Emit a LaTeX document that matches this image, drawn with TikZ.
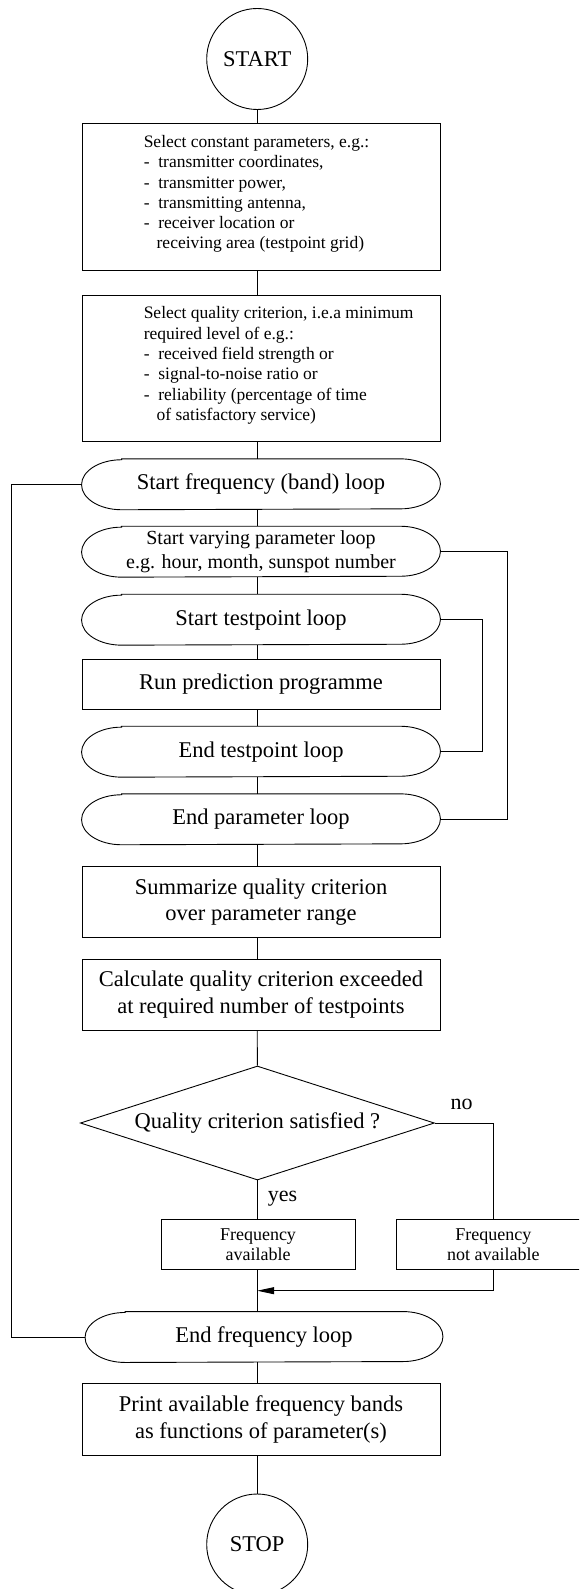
\documentclass[tikz,border=0pt]{standalone}
\usepackage{fontspec}
\setmainfont{Liberation Serif}
\usetikzlibrary{shapes.geometric,arrows.meta,calc}

\newcommand{\bigtxt}{\fontsize{22.5pt}{26.7pt}\selectfont}
\newcommand{\midtxt}{\fontsize{20pt}{23.3pt}\selectfont}
\newcommand{\smalltxt}{\fontsize{17.5pt}{20.3pt}\selectfont}
\newcommand{\boxtxt}{\fontsize{18pt}{20pt}\selectfont}

% outline of a loop terminal: straight top and bottom, half-ellipse ends
\newcommand{\termoutline}[1]{%
  \draw ($(#1.north west)+(40pt,0)$) -- ($(#1.north east)+(-40pt,0)$)
    arc[start angle=90,end angle=-90,x radius=40pt,y radius=25pt]
    -- ($(#1.south west)+(40pt,0)$)
    arc[start angle=270,end angle=90,x radius=40pt,y radius=25pt] -- cycle;}

\begin{document}
\begin{tikzpicture}[x=1pt,y=-1pt,line width=0.9pt,
  every node/.style={inner sep=0pt},
  proc/.style={draw,rectangle,minimum width=358pt,font=\bigtxt,align=center},
  term/.style={rectangle,minimum width=358pt,minimum height=50pt,font=\bigtxt,align=center},
  endpt/.style={draw,circle,minimum size=101pt,font=\bigtxt},
  note/.style={font=\smalltxt,align=left,anchor=west},
  smallbox/.style={draw,rectangle,minimum width=194pt,minimum height=50pt,font=\boxtxt,align=center},
  answer/.style={font=\fontsize{22pt}{26pt}\selectfont},
  flow/.style={},
  back/.style={-{Triangle[length=17pt,width=7pt]}}]
\clip (0,0) rectangle (579,1589);

% start
\node[endpt] (start) at (257.2,59) {START};

% constant parameters
\node[proc,minimum height=146.7pt] (b1) at (261,196.7) {};
\node[note] (b1t) at (143.3,194) {Select constant parameters, e.g.:\\
-\ \ transmitter coordinates,\\
-\ \ transmitter power,\\
-\ \ transmitting antenna,\\
-\ \ receiver location or\\
\hspace*{12.9pt}receiving area (testpoint grid)};

% quality criterion
\node[proc,minimum height=146.7pt] (b2) at (261,368.3) {};
\node[note] (b2t) at (143.3,365.5) {Select quality criterion, i.e.a minimum\\
required level of e.g.:\\
-\ \ received field strength or\\
-\ \ signal-to-noise ratio or\\
-\ \ reliability (percentage of time\\
\hspace*{12.9pt}of satisfactory service)};

% nested loops
\node[term] (sf) at (261,484.3) {Start frequency (band) loop};
\termoutline{sf}
\node[term,font=\midtxt] (sv) at (261,551.7) {Start varying parameter loop\\e.g. hour, month, sunspot number};
\termoutline{sv}
\node[term] (st) at (261,619.7) {Start testpoint loop};
\termoutline{st}
\node[proc,minimum height=50pt] (rp) at (261,684.3) {Run prediction programme};
\node[term] (et) at (261,751.7) {End testpoint loop};
\termoutline{et}
\node[term] (ep) at (261,819.3) {End parameter loop};
\termoutline{ep}

% evaluation
\node[proc,minimum height=70.6pt] (sq) at (261,902) {Summarize quality criterion\\over parameter range};
\node[proc,minimum height=71pt] (cq) at (261,994.5) {Calculate quality criterion exceeded\\at required number of testpoints};
\node[draw,diamond,aspect=3.1,minimum width=354pt,minimum height=114pt,font=\bigtxt] (dq) at (257.4,1123) {Quality criterion satisfied ?};
\node[answer] (no) at (461.6,1104) {no};
\node[answer] (yes) at (282.5,1198.3) {yes};
\node[smallbox] (fa) at (258,1244.3) {Frequency\\available};
\node[smallbox] (na) at (493.3,1244.3) {Frequency\\not available};
\coordinate (join) at (257.2,1290.7);

% end of frequency loop and output
\node[term,minimum width=357pt] (ef) at (264,1337) {End frequency loop};
\termoutline{ef}
\node[proc,minimum height=71.3pt] (pr) at (261,1419.3) {Print available frequency bands\\as functions of parameter(s)};
\node[endpt] (stop) at (257.2,1544.5) {STOP};

% main flow
\draw[flow] (start) -- (start |- b1.north);
\draw[flow] (b1.south -| start) -- (b2.north -| start);
\draw[flow] (b2.south -| start) -- (sf.north -| start);
\draw[flow] (sf.south -| start) -- (sv.north -| start);
\draw[flow] (sv.south -| start) -- (st.north -| start);
\draw[flow] (st.south -| start) -- (rp.north -| start);
\draw[flow] (rp.south -| start) -- (et.north -| start);
\draw[flow] (et.south -| start) -- (ep.north -| start);
\draw[flow] (ep.south -| start) -- (sq.north -| start);
\draw[flow] (sq.south -| start) -- (cq.north -| start);
\draw[flow] (cq.south -| start) -- (dq.north);
\draw[flow] (dq.south) -- (fa.north -| dq.south);
\draw[flow] (dq.east) -| (na.north);
\draw[back] (na.south) |- (join);
\draw[flow] (fa.south -| start) -- (ef.north -| start);
\draw[flow] (ef.south -| start) -- (pr.north -| start);
\draw[flow] (pr.south -| start) -- (stop);

% loop returns
\draw[flow] (ef.west) -- ++(-74pt,0) |- (sf.west);
\draw[flow] (sv.east) -- ++(67.3pt,0) |- (ep.east);
\draw[flow] (st.east) -- ++(42.3pt,0) |- (et.east);
\end{tikzpicture}
\end{document}
